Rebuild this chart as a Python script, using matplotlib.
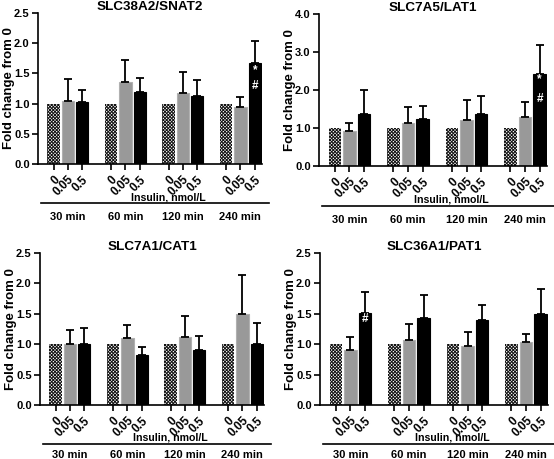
import matplotlib
matplotlib.use("Agg")
import matplotlib.pyplot as plt
import matplotlib.transforms as mtransforms
import numpy as np

plt.rcParams['font.family'] = ['Liberation Sans', 'DejaVu Sans']
plt.rcParams['font.weight'] = 'bold'
plt.rcParams['hatch.linewidth'] = 0.7

times = ["30 min", "60 min", "120 min", "240 min"]
doses = ["0", "0.05", "0.5"]
xlabel = "Insulin, nmol/L"

titles = ["SLC38A2/SNAT2", "SLC7A5/LAT1", "SLC7A1/CAT1", "SLC36A1/PAT1"]
ymax = [2.5, 4.0, 2.5, 2.5]
ystep = [0.5, 1.0, 0.5, 0.5]

# mean values per time point: [0, 0.05, 0.5]
means = [
    [[1.0, 1.05, 1.02], [1.0, 1.35, 1.20], [1.0, 1.18, 1.13], [1.0, 0.95, 1.67]],
    [[1.0, 0.93, 1.38], [1.0, 1.14, 1.25], [1.0, 1.22, 1.36], [1.0, 1.30, 2.42]],
    [[1.0, 1.00, 1.01], [1.0, 1.10, 0.83], [1.0, 1.12, 0.90], [1.0, 1.50, 1.01]],
    [[1.0, 0.90, 1.52], [1.0, 1.07, 1.43], [1.0, 0.97, 1.40], [1.0, 1.03, 1.50]],
]
# top of error bar
tops = [
    [[1.0, 1.40, 1.23], [1.0, 1.72, 1.42], [1.0, 1.52, 1.39], [1.0, 1.11, 2.04]],
    [[1.0, 1.12, 2.00], [1.0, 1.55, 1.58], [1.0, 1.73, 1.83], [1.0, 1.68, 3.18]],
    [[1.0, 1.23, 1.26], [1.0, 1.31, 0.95], [1.0, 1.46, 1.13], [1.0, 2.13, 1.35]],
    [[1.0, 1.12, 1.86], [1.0, 1.33, 1.81], [1.0, 1.20, 1.65], [1.0, 1.16, 1.91]],
]
# significance marks: (panel, time index, dose index, text, y)
marks = [
    (0, 3, 2, "*", 1.55), (0, 3, 2, "#", 1.29),
    (1, 3, 2, "*", 2.28), (1, 3, 2, "#", 1.76),
    (3, 0, 2, "#", 1.42),
]

W, H = 554, 459
fig = plt.figure(figsize=(W / 100, H / 100), dpi=100)
boxes = [(38, 262, 13, 164), (319, 547, 14, 166), (40, 264, 253, 405), (320, 548, 253, 405)]
# pixel offsets below the axis: insulin label, bracket line, time labels
offs = [(33, 39, 53), (33, 40, 54), (32, 39, 50), (32, 39, 50)]

face = ['white', '#999999', 'black']
edge = ['#111111', '#b0b0b0', 'black']
lws = [0, 0.8, 0.8]
hatch = ['xxxxxxxxxx', None, None]

for p in range(4):
    l, r, t, b = boxes[p]
    hpx = b - t
    wpx = r - l
    ax = fig.add_axes([l / W, 1 - b / H, wpx / W, hpx / H])
    xs_all = []
    labels_all = []
    for g in range(4):
        for d in range(3):
            x = g * 4 + d
            xs_all.append(x)
            labels_all.append(doses[d])
            ax.bar(x, means[p][g][d], width=0.86, color=face[d], edgecolor=edge[d],
                   hatch=hatch[d], linewidth=lws[d], zorder=2)
            if d > 0:
                ax.errorbar(x, means[p][g][d], yerr=[[0], [tops[p][g][d] - means[p][g][d]]],
                            fmt='none', ecolor='black', elinewidth=1.3, capsize=3, capthick=1.3, zorder=3)
    for (pp, g, d, txt, y) in marks:
        if pp == p:
            ax.text(g * 4 + d, y, txt, color='white', ha='center', va='center', fontsize=8.5,
                    fontweight='bold', zorder=4)
    ax.set_xlim(-1.08, 14.5)
    ax.set_ylim(0, ymax[p])
    yt = np.arange(0, ymax[p] + 1e-9, ystep[p])
    ax.set_yticks(yt)
    ax.set_yticklabels([f"{v:.1f}" for v in yt], fontsize=8)
    ax.set_xticks(xs_all)
    ax.set_xticklabels(labels_all, rotation=45, ha='right', rotation_mode='anchor', fontsize=8.5)
    ax.tick_params(axis='both', direction='out', length=4, width=1.2, pad=2)
    ax.tick_params(axis='x', pad=3)
    for s in ['top', 'right']:
        ax.spines[s].set_visible(False)
    for s in ['left', 'bottom']:
        ax.spines[s].set_linewidth(1.2)
    ax.set_title(titles[p], fontsize=9.7, fontweight='bold', pad=1.5)
    ax.set_ylabel("Fold change from 0", fontsize=9.5, fontweight='bold', va='center')
    ax.yaxis.set_label_coords(-29 / wpx, 0.5)
    oi, ol, ot = offs[p]
    ax.text(0.58, -oi / hpx, xlabel, transform=ax.transAxes, ha='center', va='center',
            fontsize=7.6, fontweight='bold')
    ax.plot([0.015, 1.03], [-ol / hpx, -ol / hpx], transform=ax.transAxes, color='black', lw=1.2,
            clip_on=False)
    trans = mtransforms.blended_transform_factory(ax.transData, ax.transAxes)
    for g in range(4):
        ax.text(g * 4 + 1, -ot / hpx, times[g], transform=trans, ha='center', va='center',
                fontsize=8, fontweight='bold')

fig.savefig("out.png", dpi=100)
